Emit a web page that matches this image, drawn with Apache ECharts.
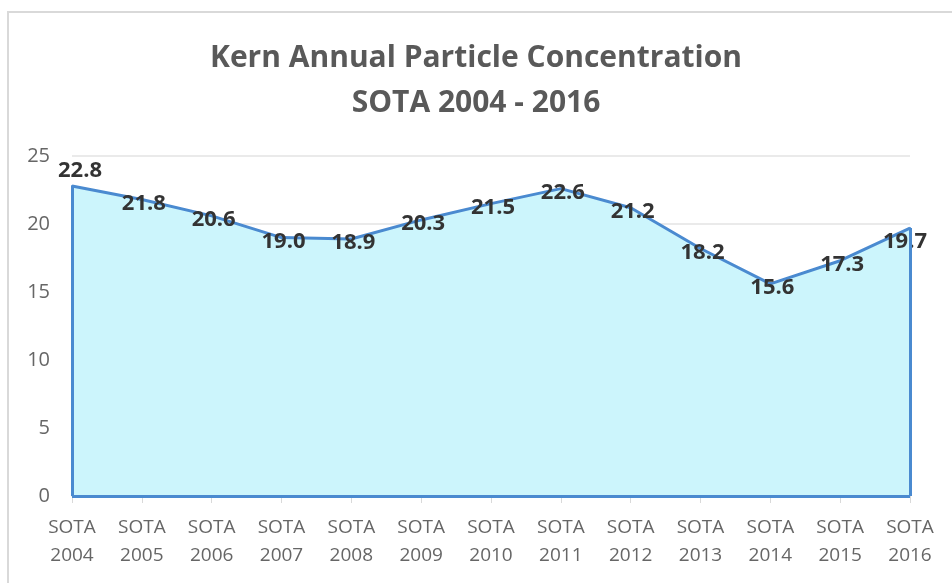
<!DOCTYPE html>
<html>
<head>
<meta charset="utf-8">
<script src="https://cdn.jsdelivr.net/npm/echarts@6/dist/echarts.min.js"></script>
<style>
  html, body { margin: 0; padding: 0; background: #fff; }
  #chart { width: 952px; height: 583px; }
</style>
</head>
<body>
<div id="chart"></div>
<script>
// data
var years = ["2004", "2005", "2006", "2007", "2008", "2009", "2010",
             "2011", "2012", "2013", "2014", "2015", "2016"];
var categories = years.map(function (y) { return "SOTA\n" + y; });
var concentration = [22.8, 21.8, 20.6, 19.0, 18.9, 20.3, 21.5, 22.6, 21.2, 18.2, 15.6, 17.3, 19.7];
var yTicks = [0, 5, 10, 15, 20, 25];

var lineBlue = "#4a8ad0";
var first = categories[0];
var last = categories[categories.length - 1];
var lastIdx = concentration.length - 1;

// edge labels get nudged like Excel does
var seriesData = concentration.map(function (v, i) {
    if (i === 0) return { value: v, label: { position: "top", offset: [8, 2] } };
    if (i === lastIdx) return { value: v, label: { offset: [-5, 14] } };
    return v;
});

var myChart = echarts.init(document.getElementById("chart"));
var option = {
    backgroundColor: "#fff",
    animation: false,
    graphic: [{
        type: "rect",
        shape: { x: 8, y: 12, width: 1000, height: 700 },
        style: { fill: "none", stroke: "#d9d9d9", lineWidth: 2 },
        silent: true
    }],
    title: {
        text: "Kern Annual Particle Concentration\nSOTA 2004 - 2016",
        left: "center",
        top: 31,
        textStyle: {
            fontFamily: "Open Sans",
            fontWeight: "bold",
            fontSize: 30,
            lineHeight: 45,
            color: "#595959"
        }
    },
    grid: { left: 72, right: 42, top: 156, bottom: 87, containLabel: false },
    xAxis: {
        type: "category",
        data: categories,
        boundaryGap: false,
        axisLine: { lineStyle: { color: "#d9d9d9", width: 1.5 } },
        axisTick: { alignWithLabel: true, length: 7, lineStyle: { color: "#d9d9d9" } },
        axisLabel: {
            color: "#666",
            fontFamily: "Open Sans",
            fontSize: 19,
            lineHeight: 28,
            margin: 18
        }
    },
    yAxis: {
        type: "value",
        min: yTicks[0],
        max: yTicks[yTicks.length - 1],
        interval: 5,
        axisLine: { show: false },
        axisTick: { show: false },
        splitLine: { lineStyle: { color: "#e3e3e3", width: 1.5 } },
        axisLabel: {
            color: "#666",
            fontFamily: "Open Sans",
            fontSize: 20,
            margin: 22
        }
    },
    series: [{
        type: "line",
        data: seriesData,
        symbol: "circle",
        symbolSize: 2,
        showSymbol: true,
        itemStyle: { color: lineBlue },
        lineStyle: { color: lineBlue, width: 3 },
        areaStyle: { color: "#ccf5fc", opacity: 1 },
        label: {
            show: true,
            position: "inside",
            offset: [2, 4],
            formatter: function (p) { return p.value.toFixed(1); },
            fontFamily: "Open Sans",
            fontWeight: "bold",
            fontSize: 22,
            color: "#333"
        },
        markLine: {
            silent: true,
            symbol: "none",
            label: { show: false },
            lineStyle: { color: lineBlue, width: 3, type: "solid" },
            data: [
                [{ coord: [first, 0] }, { coord: [first, concentration[0]] }],
                [{ coord: [last, 0] }, { coord: [last, concentration[lastIdx]] }],
                [{ coord: [first, 0] }, { coord: [last, 0] }]
            ]
        }
    }]
};
myChart.setOption(option);
</script>
</body>
</html>
